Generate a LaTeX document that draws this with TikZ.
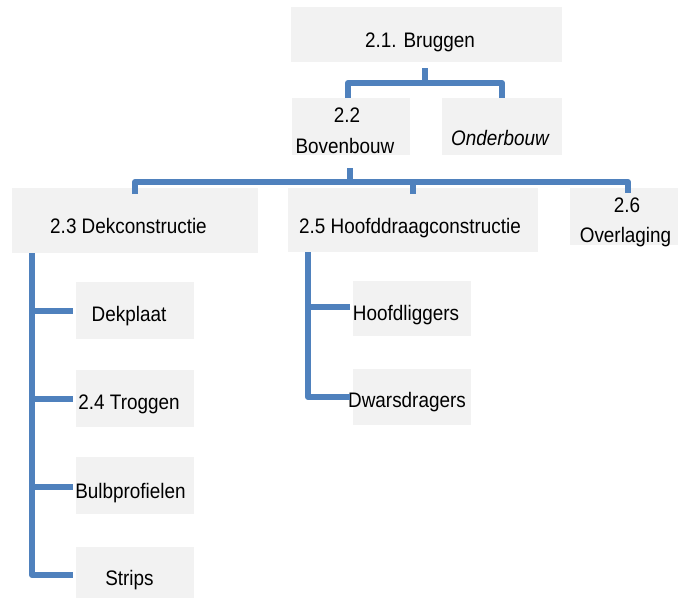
\documentclass[tikz,border=0pt]{standalone}
\usepackage{fontspec}
\setmainfont[FakeStretch=0.9]{Liberation Sans}
\usetikzlibrary{calc}
\definecolor{boxgray}{HTML}{F2F2F2}
\definecolor{linkblue}{HTML}{4F81BD}
\begin{document}
\begin{tikzpicture}[x=1pt,y=-1pt,
  box/.style={fill=boxgray, draw=none, inner sep=0pt, outer sep=0pt},
  txt/.style={anchor=base, inner sep=0pt, outer sep=0pt, font=\fontsize{21}{25}\selectfont, text=black},
  conn/.style={draw=linkblue, line width=6pt, line join=round}]
\useasboundingbox (0,0) rectangle (678,598);
% boxes
\node[box, minimum width=271pt, minimum height=55pt] (bruggen) at (426.5,34.5) {};
\node[box, minimum width=118pt, minimum height=57pt] (bovenbouw) at (351,126.5) {};
\node[box, minimum width=120pt, minimum height=57pt] (onderbouw) at (502,126.5) {};
\node[box, minimum width=246pt, minimum height=65pt] (dek) at (135,220.5) {};
\node[box, minimum width=250pt, minimum height=64pt] (hoofd) at (413,220) {};
\node[box, minimum width=108pt, minimum height=57pt] (overl) at (624,216.5) {};
\node[box, minimum width=118pt, minimum height=57pt] (dekplaat) at (135,310.5) {};
\node[box, minimum width=118pt, minimum height=57pt] (troggen) at (135,398.5) {};
\node[box, minimum width=118pt, minimum height=57pt] (bulb) at (135,485.5) {};
\node[box, minimum width=118pt, minimum height=51pt] (strips) at (135,572.5) {};
\node[box, minimum width=118pt, minimum height=55pt] (hliggers) at (412,308.5) {};
\node[box, minimum width=118pt, minimum height=56pt] (dwars) at (412,397) {};
% texts
\node[txt] (tbruggen) at (420,47) {2.1. Bruggen};
\node[txt] (tboven1) at (347,122) {2.2};
\node[txt] (tboven2) at (345,153) {Bovenbouw};
\node[txt] (tonder) at (500,145) {\itshape Onderbouw};
\node[txt] (tdek) at (128.5,233) {2.3 Dekconstructie};
\node[txt] (thoofd) at (410,233) {2.5 Hoofddraagconstructie};
\node[txt] (toverl1) at (627,212) {2.6};
\node[txt] (toverl2) at (625.5,242) {Overlaging};
\node[txt] (tdekplaat) at (129,321) {Dekplaat};
\node[txt] (ttroggen) at (129,409) {2.4 Troggen};
\node[txt] (tbulb) at (130.5,498) {Bulbprofielen};
\node[txt] (tstrips) at (129.5,585) {Strips};
\node[txt] (thliggers) at (406,320) {Hoofdliggers};
\node[txt] (tdwars) at (407,407) {Dwarsdragers};
% connectors
\coordinate (bus1) at ($(bruggen.south)+(-1.5,21)$);
\draw[conn] ($(bruggen.south)+(-1.5,6)$) -- (bus1);
\draw[conn] ($(bovenbouw.north)+(-3,0)$) |- (bus1) -| (onderbouw.north);
\coordinate (bus2) at ($(bovenbouw.south)+(-1,27)$);
\draw[conn] ($(bovenbouw.south)+(-1,13)$) -- (bus2);
\draw[conn] ($(dek.north)+(0,6)$) |- (bus2) -| ($(overl.north)+(4,5)$);
\draw[conn] ($(hoofd.north)+(0,6)$) -- (hoofd.north |- bus2);
\coordinate (dekbus) at ($(dek.south west)+(20,0)$);
\draw[conn] (dekbus) |- ($(strips.west)+(-3,2.5)$);
\coordinate (dekplaatstub) at ($(dekplaat.west)+(-3,0)$);
\coordinate (troggenstub) at ($(troggen.west)+(-3,0)$);
\coordinate (bulbstub) at ($(bulb.west)+(-3,1.5)$);
\draw[conn] (dekbus |- dekplaatstub) -- (dekplaatstub);
\draw[conn] (dekbus |- troggenstub) -- (troggenstub);
\draw[conn] (dekbus |- bulbstub) -- (bulbstub);
\coordinate (hbus) at ($(hoofd.south west)+(20,0)$);
\draw[conn] (hbus) |- ($(dwars.west)+(-3,0)$);
\coordinate (hliggersstub) at ($(hliggers.west)+(-3,-1.5)$);
\draw[conn] (hbus |- hliggersstub) -- (hliggersstub);
\end{tikzpicture}
\end{document}
